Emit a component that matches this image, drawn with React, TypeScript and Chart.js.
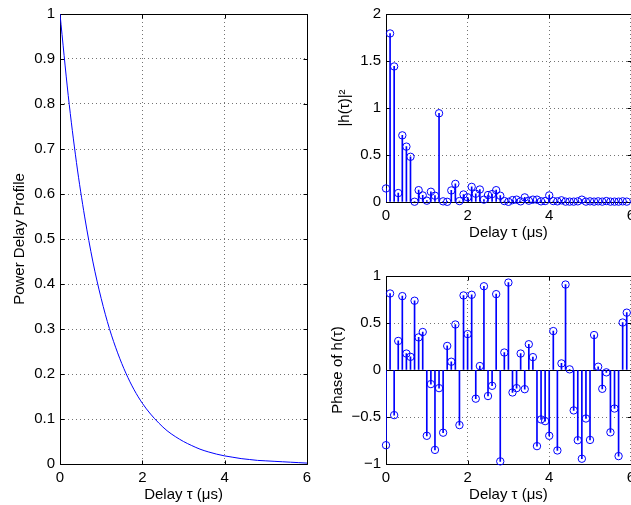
import React, { useEffect, useRef } from 'react';
import { Chart, registerables } from 'chart.js';

Chart.register(...registerables);

const FONT = '"Liberation Sans", Arial, Helvetica, sans-serif';
const BLUE = '#0000ff';

// Left panel: power delay profile
const pdpDelays = [0, 0.2, 0.4, 0.6, 0.8, 1.0, 1.2, 1.4, 1.6, 1.8, 2.0, 2.2, 2.4, 2.6, 2.8, 3.0,
  3.2, 3.4, 3.6, 3.8, 4.0, 4.2, 4.4, 4.6, 4.8, 5.0, 5.2, 5.4, 5.6, 5.8, 6.0];
const pdpValues = [1.0, 0.819, 0.67, 0.549, 0.449, 0.368, 0.301, 0.247, 0.202, 0.165, 0.135, 0.111,
  0.091, 0.074, 0.061, 0.05, 0.041, 0.033, 0.027, 0.022, 0.018, 0.015, 0.012, 0.01, 0.008, 0.007,
  0.006, 0.005, 0.004, 0.003, 0.002];

// Right panels: channel taps
const tapDelays = [0, 0.1, 0.2, 0.3, 0.4, 0.5, 0.6, 0.7, 0.8, 0.9, 1.0, 1.1, 1.2, 1.3, 1.4, 1.5,
  1.6, 1.7, 1.8, 1.9, 2.0, 2.1, 2.2, 2.3, 2.4, 2.5, 2.6, 2.7, 2.8, 2.9, 3.0, 3.1, 3.2, 3.3, 3.4,
  3.5, 3.6, 3.7, 3.8, 3.9, 4.0, 4.1, 4.2, 4.3, 4.4, 4.5, 4.6, 4.7, 4.8, 4.9, 5.0, 5.1, 5.2, 5.3,
  5.4, 5.5, 5.6, 5.7, 5.8, 5.9];
const tapPower = [0.144, 1.793, 1.442, 0.095, 0.709, 0.589, 0.481, 0.003, 0.126, 0.07,
  0.014, 0.109, 0.067, 0.944, 0.007, 0.002, 0.123, 0.193, 0.01, 0.08,
  0.05, 0.161, 0.088, 0.133, 0.025, 0.074, 0.084, 0.126, 0.067, 0.01,
  0.002, 0.02, 0.025, 0.007, 0.049, 0.014, 0.025, 0.025, 0.007, 0.01,
  0.07, 0.01, 0.007, 0.018, 0.004, 0.004, 0.004, 0.007, 0.025, 0.004,
  0.007, 0.004, 0.007, 0.004, 0.01, 0.004, 0.004, 0.004, 0.007, 0.004];
const tapPhase = [-0.8, 0.814, -0.48, 0.309, 0.786, 0.175, 0.14, 0.737, 0.347, 0.404,
  -0.7, -0.15, -0.85, -0.193, -0.667, 0.256, 0.088, 0.484, -0.586, 0.793,
  0.382, 0.8, -0.305, 0.042, 0.891, -0.277, -0.168, 0.807, -0.972, 0.186,
  0.93, -0.239, -0.193, 0.175, -0.204, 0.274, 0.137, -0.81, -0.526, -0.544,
  -0.7, 0.414, -0.856, 0.07, 0.909, 0.007, -0.43, -0.747, -0.944, -0.516,
  -0.744, 0.372, 0.035, -0.2, -0.025, -0.663, -0.41, -0.916, 0.505, 0.61];

const xTitle = 'Delay τ (μs)';

const framePlugin = {
  id: 'mframe',
  beforeDatasetsDraw(chart: any, _args: any, opts: any) {
    const { ctx, chartArea, scales } = chart;
    const l = Math.round(chartArea.left) + 0.5;
    const r = Math.round(chartArea.right) + 0.5;
    const t = Math.round(chartArea.top) + 0.5;
    const b = Math.round(chartArea.bottom) + 0.5;
    ctx.save();
    ctx.strokeStyle = '#000';
    ctx.lineWidth = 1;
    ctx.setLineDash([]);
    ctx.beginPath();
    if (opts && opts.baseline) {
      const y0 = Math.round(scales.y.getPixelForValue(0)) + 0.5;
      ctx.moveTo(l, y0);
      ctx.lineTo(r, y0);
    }
    ctx.rect(l, t, r - l, b - t);
    const L = 4;
    scales.x.ticks.forEach((tk: any) => {
      const x = Math.round(scales.x.getPixelForValue(tk.value)) + 0.5;
      ctx.moveTo(x, b); ctx.lineTo(x, b - L);
      ctx.moveTo(x, t); ctx.lineTo(x, t + L);
    });
    scales.y.ticks.forEach((tk: any) => {
      const y = Math.round(scales.y.getPixelForValue(tk.value)) + 0.5;
      ctx.moveTo(l, y); ctx.lineTo(l + L, y);
      ctx.moveTo(r, y); ctx.lineTo(r - L, y);
    });
    ctx.stroke();
    ctx.restore();
  },
};

const tickFont = { family: FONT, size: 15 };

function xAxis() {
  return {
    type: 'linear',
    min: 0,
    max: 6,
    offset: false,
    ticks: { stepSize: 2, padding: 5, color: '#000', font: tickFont, maxRotation: 0, autoSkip: false },
    grid: { color: 'rgba(0,0,0,0.55)', drawTicks: false, offset: false },
    border: { display: false, dash: [1, 3] },
    title: { display: true, text: xTitle, color: '#000', font: tickFont, padding: { top: 0, bottom: 0 } },
    afterFit: (s: any) => { s.height = 40; },
  };
}

function yAxis(min: number, max: number, step: number, title: string, titlePad: number, width: number) {
  return {
    type: 'linear',
    min,
    max,
    ticks: {
      stepSize: step,
      padding: 5,
      color: '#000',
      font: tickFont,
      autoSkip: false,
      callback: (v: any) => {
        const n = Math.round(Number(v) * 1000) / 1000;
        return String(n).replace('-', '\u2212');
      },
    },
    grid: { color: 'rgba(0,0,0,0.55)', drawTicks: false },
    border: { display: false, dash: [1, 3] },
    title: { display: true, text: title, color: '#000', font: tickFont, padding: { top: titlePad, bottom: 0 } },
    afterFit: (s: any) => { s.width = width; },
  };
}

const baseOpts = {
  animation: false,
  responsive: false,
  devicePixelRatio: 1,
  events: [],
  plugins: { legend: { display: false }, tooltip: { enabled: false } },
};

function stemDatasets(values: number[]) {
  return [
    {
      type: 'scatter',
      data: tapDelays.map((x, i) => ({ x, y: values[i] })),
      pointStyle: 'circle',
      pointRadius: 3.7,
      pointBorderWidth: 1,
      borderColor: BLUE,
      backgroundColor: 'rgba(0,0,0,0)',
      showLine: false,
      clip: false,
      order: 0,
    },
    {
      type: 'bar',
      data: tapDelays.map((x, i) => ({ x, y: values[i] })),
      backgroundColor: BLUE,
      borderWidth: 0,
      barThickness: 1,
      order: 1,
    },
  ];
}

export default function App() {
  const c1 = useRef<HTMLCanvasElement>(null);
  const c2 = useRef<HTMLCanvasElement>(null);
  const c3 = useRef<HTMLCanvasElement>(null);

  useEffect(() => {
    const charts: Chart[] = [];

    charts.push(new Chart(c1.current as HTMLCanvasElement, {
      type: 'line',
      data: {
        datasets: [{
          data: pdpDelays.map((x, i) => ({ x, y: pdpValues[i] })),
          borderColor: BLUE,
          borderWidth: 1,
          pointRadius: 0,
          cubicInterpolationMode: 'monotone',
          fill: false,
        }],
      },
      options: {
        ...baseOpts,
        layout: { padding: { left: 0, top: 12, right: 13, bottom: 1 } },
        scales: {
          x: xAxis(),
          y: yAxis(0, 1, 0.1, 'Power Delay Profile', 11, 60),
        },
        plugins: { ...baseOpts.plugins, mframe: {} },
      } as any,
      plugins: [framePlugin],
    } as any));

    charts.push(new Chart(c2.current as HTMLCanvasElement, {
      type: 'bar',
      data: { datasets: stemDatasets(tapPower) as any },
      options: {
        ...baseOpts,
        layout: { padding: { left: 0, top: 12, right: 7, bottom: 8 } },
        scales: {
          x: xAxis(),
          y: yAxis(0, 2, 0.5, '|h(τ)|²', 16, 66),
        },
        plugins: { ...baseOpts.plugins, mframe: {} },
      } as any,
      plugins: [framePlugin],
    } as any));

    charts.push(new Chart(c3.current as HTMLCanvasElement, {
      type: 'bar',
      data: { datasets: stemDatasets(tapPhase) as any },
      options: {
        ...baseOpts,
        layout: { padding: { left: 0, top: 26, right: 7, bottom: 1 } },
        scales: {
          x: xAxis(),
          y: yAxis(-1, 1, 0.5, 'Phase of h(τ)', 9, 66),
        },
        plugins: { ...baseOpts.plugins, mframe: { baseline: true } },
      } as any,
      plugins: [framePlugin],
    } as any));

    return () => { charts.forEach((c) => c.destroy()); };
  }, []);

  const cs = (left: number, top: number): React.CSSProperties => ({
    position: 'absolute', left, top, display: 'block',
  });

  return (
    <div style={{ position: 'absolute', left: 0, top: 0, width: 631, height: 505, overflow: 'hidden', background: '#fff' }}>
      <canvas ref={c1} width={320} height={505} style={cs(0, 0)} />
      <canvas ref={c2} width={320} height={250} style={cs(320, 0)} />
      <canvas ref={c3} width={320} height={255} style={cs(320, 250)} />
    </div>
  );
}
